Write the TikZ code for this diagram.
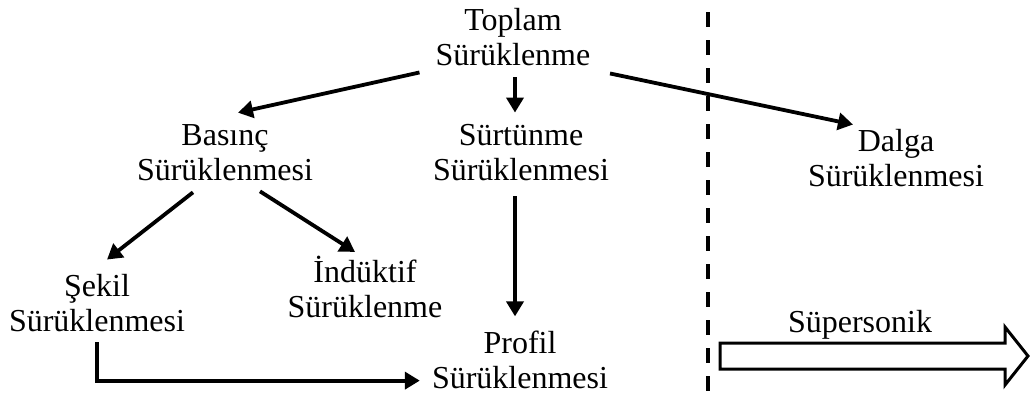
\documentclass[tikz,border=0pt]{standalone}
\usepackage{fontspec}
\setmainfont{Liberation Serif}
\usetikzlibrary{arrows.meta,calc}
\begin{document}
\begin{tikzpicture}[x=1pt,y=-1pt,
  lbl/.style={align=center,inner sep=0pt,font=\fontsize{32}{35}\selectfont},
  arr/.style={line width=3.8pt,-{Triangle[length=15pt,width=17pt]}},
  conn/.style={line width=3.8pt}]
\useasboundingbox (0,0) rectangle (1030,400);
\node[lbl] (top) at (513,37.5) {Toplam\\Sürüklenme};
\node[lbl] (bas) at (225,153) {Basınç\\Sürüklenmesi};
\node[lbl] (sur) at (521,153) {Sürtünme\\Sürüklenmesi};
\node[lbl] (dal) at (896,158.5) {Dalga\\Sürüklenmesi};
\node[lbl] (sek) at (97,303.5) {Şekil\\Sürüklenmesi};
\node[lbl] (ind) at (365,287) {İndüktif\\Sürüklenme};
\node[lbl] (pro) at (520,359.5) {Profil\\Sürüklenmesi};
\node[lbl] (sup) at (860,324.5) {Süpersonik};
% arrows
\draw[arr] ($(top.south west)+(-16,6)$) -- ($(bas.north)+(13,-12)$);
\draw[arr] ($(top.south)+(2,11)$) -- ($(sur.north)+(-6,-12)$);
\draw[arr] ($(top.south east)+(19.5,7)$) -- ($(dal.north)+(-43,-5)$);
\draw[arr] ($(bas.south)+(-32,11)$) -- ($(sek.north)+(10,-15)$);
\draw[arr] ($(bas.south)+(35,10)$) -- ($(ind.north)+(-10,-4)$);
\draw[arr] ($(sur.south)+(-6,15)$) -- ($(pro.north)+(-5,-14)$);
\draw[arr] ($(sek.south)+(0,10)$) |- ($(pro.south west)+(-12,-8)$);
% dashed divider
\draw[line width=4pt,dash pattern=on 15pt off 13pt] (708,12) -- (708,398);
% block arrow
\draw[line width=3pt,line join=miter]
  (720,343) -- (1005,343) -- (1005,327) -- (1028,356) -- (1005,385) -- (1005,369) -- (720,369) -- cycle;
\end{tikzpicture}
\end{document}
